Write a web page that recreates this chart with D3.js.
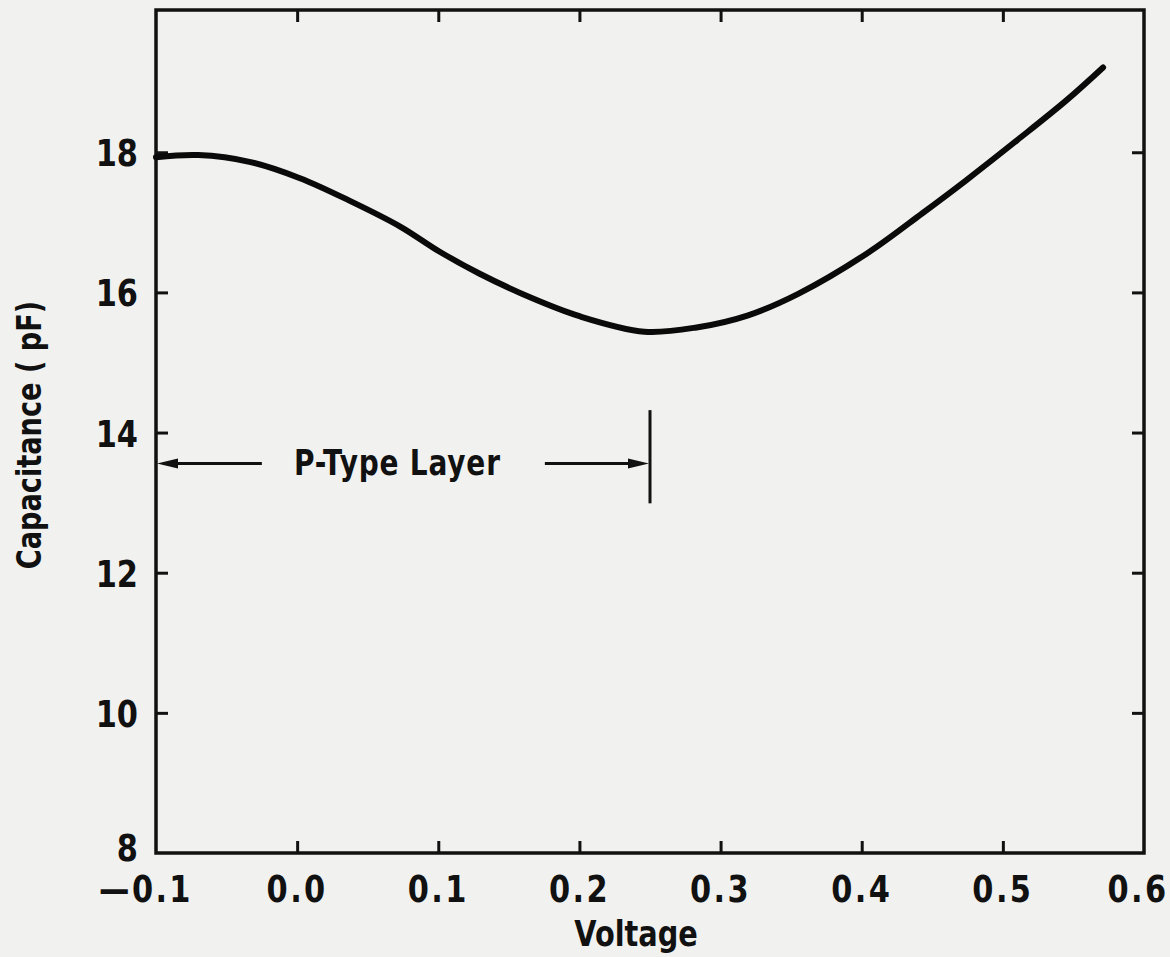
<!DOCTYPE html>
<html><head><meta charset="utf-8">
<script src="https://cdn.jsdelivr.net/npm/d3@7"></script>
<style>
html,body{margin:0;padding:0;background:#f1f1ef;}
svg{display:block;}
text{font-family:"DejaVu Sans",sans-serif;font-weight:bold;fill:#111;}
</style></head>
<body>
<script>
const voltage = [-0.1, -0.07, -0.033, 0.002, 0.037, 0.073, 0.101, 0.129, 0.165, 0.200, 0.246, 0.283, 0.319, 0.355, 0.404, 0.443, 0.474, 0.510, 0.545, 0.571];
const capacitance = [17.93, 17.96, 17.86, 17.63, 17.31, 16.94, 16.58, 16.27, 15.93, 15.66, 15.44, 15.50, 15.67, 15.98, 16.56, 17.13, 17.60, 18.17, 18.74, 19.21];
const xTicks = [-0.1, 0.0, 0.1, 0.2, 0.3, 0.4, 0.5, 0.6];
const xTickLabels = ["\u20140.1", "0.0", "0.1", "0.2", "0.3", "0.4", "0.5", "0.6"];
const yTicks = [8, 10, 12, 14, 16, 18];
const yTickLabels = ["8", "10", "12", "14", "16", "18"];
const layerBoundary = 0.25;
const layerLabel = "P-Type Layer";
const xTitle = "Voltage";
const yTitle = "Capacitance ( pF)";

const W = 1170, H = 957;
const SX = 0.8;
const svg = d3.select("body").append("svg").attr("width", W).attr("height", H);
svg.append("rect").attr("width", W).attr("height", H).attr("fill", "#f1f1ef");

const x = d3.scaleLinear().domain([-0.1, 0.6]).range([156, 1144]);
const y = d3.scaleLinear().domain([8, 20.03]).range([853, 10]);

const inner = xTicks.slice(1, -1);
const innerY = yTicks.slice(1);
const tickLen = 12;
function styleAxis(g){
  g.select(".domain").remove();
  g.selectAll(".tick line").attr("stroke", "#111").attr("stroke-width", 3);
}
svg.append("g").attr("transform", `translate(0,${y(8)})`)
  .call(d3.axisBottom(x).tickValues(inner).tickSize(-tickLen).tickFormat(""))
  .call(styleAxis);
svg.append("g").attr("transform", `translate(0,${y(20.03)})`)
  .call(d3.axisTop(x).tickValues(inner).tickSize(-tickLen).tickFormat(""))
  .call(styleAxis);
svg.append("g").attr("transform", `translate(${x(-0.1)},0)`)
  .call(d3.axisLeft(y).tickValues(innerY).tickSize(-tickLen).tickFormat(""))
  .call(styleAxis);
svg.append("g").attr("transform", `translate(${x(0.6)},0)`)
  .call(d3.axisRight(y).tickValues(innerY).tickSize(-tickLen).tickFormat(""))
  .call(styleAxis);

svg.append("rect")
  .attr("x", x(-0.1)).attr("y", y(20.03))
  .attr("width", x(0.6) - x(-0.1)).attr("height", y(8) - y(20.03))
  .attr("fill", "none").attr("stroke", "#111").attr("stroke-width", 3.5);

svg.append("g").selectAll("text").data(xTicks).join("text")
  .attr("transform", (d, i) => `translate(${x(d) - (i === 0 ? 10 : (i === xTicks.length - 1 ? 6 : 0))},902) scale(${SX},1)`)
  .attr("text-anchor", "middle")
  .attr("font-size", 38)
  .attr("letter-spacing", 3)
  .text((d, i) => xTickLabels[i]);
svg.append("g").selectAll("text").data(yTicks).join("text")
  .attr("transform", (d, i) => `translate(138,${y(d) + (i === 0 ? 8 : 14)}) scale(${SX},1)`)
  .attr("text-anchor", "end")
  .attr("font-size", 38)
  .text((d, i) => yTickLabels[i]);

svg.append("text").attr("transform", `translate(636,946) scale(${SX},1)`)
  .attr("text-anchor", "middle").attr("font-size", 36).text(xTitle);
svg.append("text")
  .attr("transform", `translate(41,435) rotate(-90) scale(${SX},1)`)
  .attr("text-anchor", "middle").attr("font-size", 34).text(yTitle);

const line = d3.line().x((d, i) => x(voltage[i])).y(d => y(d)).curve(d3.curveCatmullRom.alpha(0.5));
svg.append("path").datum(capacitance).attr("d", line)
  .attr("fill", "none").attr("stroke", "#0a0a0a").attr("stroke-width", 6)
  .attr("stroke-linecap", "round");

const arrowY = 13.56;
svg.append("line")
  .attr("x1", x(layerBoundary)).attr("x2", x(layerBoundary))
  .attr("y1", y(14.32)).attr("y2", y(12.99))
  .attr("stroke", "#111").attr("stroke-width", 3);
const arrowLen = 22, arrowHalf = 5;
svg.append("line").attr("x1", x(-0.1) + arrowLen - 2).attr("x2", x(-0.025))
  .attr("y1", y(arrowY)).attr("y2", y(arrowY)).attr("stroke", "#111").attr("stroke-width", 3);
svg.append("path")
  .attr("d", `M${x(-0.1)+1},${y(arrowY)} L${x(-0.1)+arrowLen},${y(arrowY)-arrowHalf} L${x(-0.1)+arrowLen},${y(arrowY)+arrowHalf} Z`)
  .attr("fill", "#111");
svg.append("line").attr("x1", x(0.1755)).attr("x2", x(layerBoundary) - arrowLen + 2)
  .attr("y1", y(arrowY)).attr("y2", y(arrowY)).attr("stroke", "#111").attr("stroke-width", 3);
svg.append("path")
  .attr("d", `M${x(layerBoundary)-1},${y(arrowY)} L${x(layerBoundary)-arrowLen},${y(arrowY)-arrowHalf} L${x(layerBoundary)-arrowLen},${y(arrowY)+arrowHalf} Z`)
  .attr("fill", "#111");
svg.append("text").attr("transform", `translate(${x(0.071)},${y(arrowY) + 12}) scale(${SX},1)`)
  .attr("text-anchor", "middle").attr("font-size", 35).attr("letter-spacing", 1).text(layerLabel);
</script>
</body></html>
